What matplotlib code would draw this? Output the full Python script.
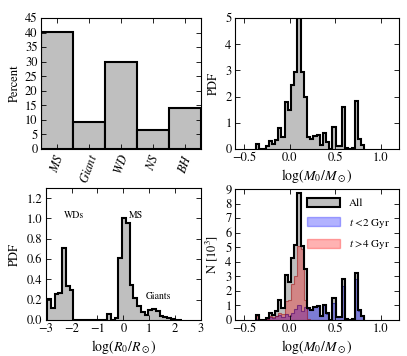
import matplotlib
matplotlib.use('Agg')
import matplotlib.pyplot as plt
import numpy as np
from matplotlib.patches import Patch

plt.rcParams['font.family'] = 'serif'
plt.rcParams['font.serif'] = ['STIXGeneral', 'Liberation Serif', 'DejaVu Serif']
plt.rcParams['mathtext.fontset'] = 'stix'
plt.rcParams['font.size'] = 9

# remnant type fractions
types = ['$MS$', '$Giant$', '$WD$', '$NS$', '$BH$']
type_pct = [40.2, 9.2, 29.8, 6.5, 14.1]

# log(M0/Msun) histogram, bins of equal width
m_lo, m_width = -0.37, 0.035
m_pdf = [0.2, 0, 0, 0.1, 0.3, 0.2, 0.35, 0.8, 0.45, 1.8, 1.5, 2.45, 2.95, 5.0, 2.95,
         2.0, 0.45, 0.4, 0.5, 0.55, 0.15, 0.6, 0.25, 0, 0.85, 0.1, 0.1, 1.6, 0.05, 0,
         0.05, 1.85, 0.4, 0.15]
m_all = [0.35, 0, 0, 0.15, 0.5, 0.35, 0.6, 1.4, 0.8, 3.1, 2.6, 4.25, 5.15, 8.7, 5.1,
         3.5, 0.8, 0.7, 0.9, 0.95, 0.25, 1.05, 0.45, 0, 1.5, 0.2, 0.2, 2.8, 0.1, 0,
         0.1, 3.25, 0.7, 0.25]
m_young = [0.05, 0, 0, 0.05, 0.2, 0.15, 0.25, 0.35, 0.2, 0.4, 0.3, 0.5, 0.75, 1.05, 0.6,
           0.9, 0.75, 0.7, 0.9, 0.95, 0.25, 1.0, 0.4, 0, 1.2, 0.2, 0.2, 2.35, 0.1, 0,
           0.1, 2.85, 0.65, 0.25]
m_old = [0.3, 0, 0, 0.1, 0.3, 0.2, 0.3, 0.45, 0.4, 1.3, 1.35, 2.5, 3.0, 5.1, 4.9,
         1.4, 0.05, 0, 0, 0, 0, 0, 0, 0, 0, 0, 0, 0, 0, 0,
         0, 0, 0, 0]

# log(R0/Rsun) histogram
r_lo, r_width = -2.95, 0.145
r_pdf = [0.21, 0.12, 0.26, 0.27, 0.71, 0.33, 0.30, 0, 0, 0, 0, 0, 0, 0, 0, 0,
         0.06, 0.0, 0.02, 0.61, 1.0, 0.96, 0.34, 0.22, 0.14, 0.08, 0.045, 0.10, 0.11,
         0.09, 0.04, 0.025, 0.015, 0.01, 0.005, 0.005]

m_edges = m_lo + m_width * np.arange(len(m_pdf) + 1)
r_edges = r_lo + r_width * np.arange(len(r_pdf) + 1)

fig = plt.figure(figsize=(4.07, 3.56), dpi=100)
ax1 = fig.add_axes([0.1007, 0.5815, 0.3931, 0.3680])
ax2 = fig.add_axes([0.5774, 0.5815, 0.4029, 0.3680])
ax3 = fig.add_axes([0.1123, 0.1011, 0.3815, 0.3708])
ax4 = fig.add_axes([0.5774, 0.1011, 0.4029, 0.3680])

grey = '0.75'
lw = 1.5

for ax in (ax1, ax2, ax3, ax4):
    ax.tick_params(direction='in', top=True, right=True, length=3.5, width=0.6,
                   labelsize=9, pad=2.5)
    for s in ax.spines.values():
        s.set_linewidth(0.8)

# top left: bar chart of types
ax1.bar(np.arange(len(types)), type_pct, width=1.0, color=grey, edgecolor='k', linewidth=lw)
ax1.set_xlim(-0.5, len(types) - 0.5)
ax1.set_ylim(0, 45)
ax1.set_yticks(np.arange(0, 46, 5))
ax1.set_xticks(np.arange(len(types)))
ax1.set_xticklabels(types, rotation=70, fontsize=9)
ax1.set_ylabel('Percent', fontsize=9, labelpad=3)

# top right: mass PDF
ax2.stairs(m_pdf, m_edges, fill=True, facecolor=grey, edgecolor='none')
ax2.stairs(m_pdf, m_edges, baseline=0, color='k', linewidth=lw)
ax2.set_xlim(-0.6, 1.2)
ax2.set_ylim(0, 5)
ax2.set_xticks([-0.5, 0.0, 0.5, 1.0])
ax2.set_xticklabels(['\u22120.5', '0.0', '0.5', '1.0'])
ax2.set_ylabel('PDF', fontsize=9, labelpad=4)
ax2.set_xlabel(r'$\log(M_0/M_\odot)$', fontsize=10, labelpad=2)

# bottom left: radius PDF
ax3.stairs(r_pdf, r_edges, fill=True, facecolor=grey, edgecolor='none')
ax3.stairs(r_pdf, r_edges, baseline=0, color='k', linewidth=lw)
ax3.set_xlim(-3, 3)
ax3.set_ylim(0, 1.3)
ax3.set_xticks(np.arange(-3, 4))
ax3.set_yticks(np.arange(0, 1.21, 0.2))
ax3.set_yticklabels(['%.1f' % v for v in np.arange(0, 1.21, 0.2)])
ax3.set_ylabel('PDF', fontsize=9, labelpad=4)
ax3.set_xlabel(r'$\log(R_0/R_\odot)$', fontsize=10, labelpad=2)
ax3.text(-1.9, 1.03, 'WDs', fontsize=7, ha='center', va='center')
ax3.text(0.5, 1.03, 'MS', fontsize=7, ha='center', va='center')
ax3.text(1.35, 0.23, 'Giants', fontsize=7, ha='center', va='center')

# bottom right: counts split by age
ax4.stairs(m_all, m_edges, fill=True, facecolor=grey, edgecolor='none')
ax4.stairs(m_young, m_edges, fill=True, facecolor=(0, 0, 1, 0.35), edgecolor=(0, 0, 0.6, 0.6), linewidth=0.8)
ax4.stairs(m_old, m_edges, fill=True, facecolor=(1, 0, 0, 0.3), edgecolor=(0.6, 0, 0, 0.5), linewidth=0.8)
ax4.stairs(m_all, m_edges, baseline=0, color='k', linewidth=lw)
ax4.set_xlim(-0.6, 1.2)
ax4.set_ylim(0, 9)
ax4.set_yticks(np.arange(0, 10))
ax4.set_xticks([-0.5, 0.0, 0.5, 1.0])
ax4.set_xticklabels(['\u22120.5', '0.0', '0.5', '1.0'])
ax4.set_ylabel(r'N [$10^3$]', fontsize=9, labelpad=4)
ax4.set_xlabel(r'$\log(M_0/M_\odot)$', fontsize=10, labelpad=2)
handles = [Patch(facecolor=grey, edgecolor='k', linewidth=lw),
           Patch(facecolor=(0, 0, 1, 0.3), edgecolor=(0, 0, 1, 0.3)),
           Patch(facecolor=(1, 0, 0, 0.3), edgecolor=(1, 0, 0, 0.3))]
ax4.legend(handles, ['All', r'$t$ <2 Gyr', r'$t$ >4 Gyr'], loc='upper right', frameon=False,
           fontsize=8, handlelength=3.0, handleheight=0.9, labelspacing=0.75,
           borderaxespad=0.4, handletextpad=0.8)

fig.savefig('out.png', dpi=100)
